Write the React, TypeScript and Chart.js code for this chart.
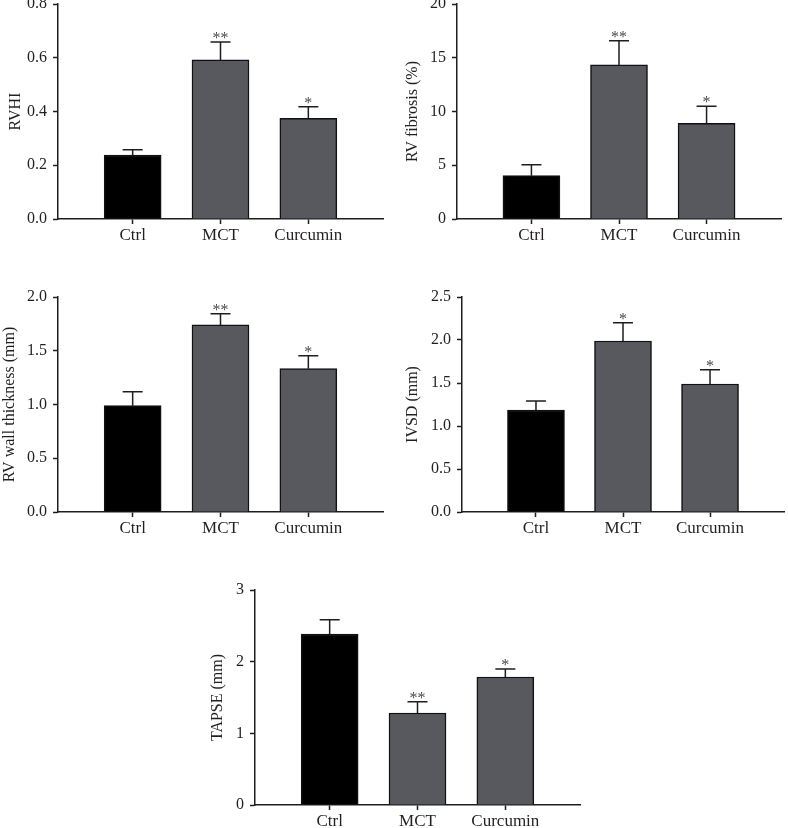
import React, { useEffect, useRef } from 'react';
import { Chart, registerables } from 'chart.js';
Chart.register(...registerables);

const CATEGORIES = ['Ctrl', 'MCT', 'Curcumin'];

const RVHI_MEAN = [0.238, 0.592, 0.375];
const RVHI_ERR = [0.020, 0.067, 0.043];
const RVHI_STARS = ['', '**', '*'];
const RVHI_TICKS = { max: 0.8, step: 0.2, dec: 1 };

const FIB_MEAN = [4.03, 14.33, 8.9];
const FIB_ERR = [1.02, 2.26, 1.6];
const FIB_STARS = ['', '**', '*'];
const FIB_TICKS = { max: 20, step: 5, dec: 0 };

const WALL_MEAN = [0.989, 1.74, 1.333];
const WALL_ERR = [0.13, 0.105, 0.121];
const WALL_STARS = ['', '**', '*'];
const WALL_TICKS = { max: 2.0, step: 0.5, dec: 1 };

const IVSD_MEAN = [1.186, 1.988, 1.488];
const IVSD_ERR = [0.105, 0.213, 0.167];
const IVSD_STARS = ['', '*', '*'];
const IVSD_TICKS = { max: 2.5, step: 0.5, dec: 1 };

const TAPSE_MEAN = [2.386, 1.284, 1.786];
const TAPSE_ERR = [0.2, 0.157, 0.112];
const TAPSE_STARS = ['', '**', '*'];
const TAPSE_TICKS = { max: 3, step: 1, dec: 0 };

const BAR_COLORS = ['#000000', '#58595e', '#58595e'];
const AXIS = '#1e1e1e';
const TEXT = '#231f20';
const FONT_FAMILY = '"Liberation Serif", "Times New Roman", serif';

type PanelProps = {
  left: number; top: number; width: number; height: number;
  yw: number; xh: number; padTop: number; padRight: number; titlePad: number;
  title: string; mean: number[]; err: number[]; stars: string[];
  ticks: { max: number; step: number; dec: number };
};

function Panel(p: PanelProps) {
  const ref = useRef<HTMLCanvasElement | null>(null);
  useEffect(() => {
    if (!ref.current) return;
    const errPlugin = {
      id: 'errbars',
      afterDatasetsDraw(chart: any) {
        const ctx = chart.ctx;
        const xs = chart.scales.x;
        const ys = chart.scales.y;
        ctx.save();
        p.mean.forEach((m, i) => {
          const x = xs.getPixelForValue(i);
          const y0 = ys.getPixelForValue(m);
          const y1 = ys.getPixelForValue(m + p.err[i]);
          ctx.strokeStyle = AXIS;
          ctx.lineWidth = 1.5;
          ctx.beginPath();
          ctx.moveTo(x, y0);
          ctx.lineTo(x, y1);
          ctx.moveTo(x - 10, y1);
          ctx.lineTo(x + 10, y1);
          ctx.stroke();
          if (p.stars[i]) {
            ctx.fillStyle = '#4a4a4a';
            ctx.font = `16px ${FONT_FAMILY}`;
            ctx.textAlign = 'center';
            ctx.textBaseline = 'alphabetic';
            ctx.fillText(p.stars[i], x, y1 + 1);
          }
        });
        ctx.restore();
      },
    };
    const font = { family: FONT_FAMILY, size: 16 };
    const catFont = { family: FONT_FAMILY, size: 17 };
    const chart = new Chart(ref.current, {
      type: 'bar',
      data: {
        datasets: [{
          data: p.mean.map((v, i) => ({ x: i, y: v })),
          backgroundColor: BAR_COLORS,
          borderColor: '#111111',
          borderWidth: 1.5,
          barThickness: 57,
        }],
      },
      options: {
        animation: false,
        responsive: false,
        events: [],
        layout: { padding: { top: p.padTop, right: p.padRight, left: 0, bottom: 0 } },
        plugins: { legend: { display: false }, tooltip: { enabled: false } },
        scales: {
          x: {
            type: 'linear',
            offset: false,
            min: -0.85,
            max: 2.85,
            bounds: 'data',
            afterBuildTicks: (s: any) => { s.ticks = CATEGORIES.map((_, i) => ({ value: i })); },
            afterFit: (s: any) => { s.height = p.xh; s.paddingLeft = 0; s.paddingRight = 0; },
            ticks: {
              callback: (v: any) => CATEGORIES[v] ?? '',
              font: catFont, color: TEXT, padding: 1, autoSkip: false, maxRotation: 0,
            },
            grid: { display: true, offset: false, drawOnChartArea: false, drawTicks: true, tickLength: 5, tickColor: AXIS, tickWidth: 1.5 },
            border: { display: true, color: AXIS, width: 1.5 },
          },
          y: {
            type: 'linear',
            min: 0,
            max: p.ticks.max,
            afterFit: (s: any) => { s.width = p.yw; s.paddingTop = 0; s.paddingBottom = 0; },
            ticks: {
              stepSize: p.ticks.step,
              callback: (v: any) => Number(v).toFixed(p.ticks.dec),
              font, color: TEXT, padding: 6,
            },
            grid: { display: true, drawOnChartArea: false, drawTicks: true, tickLength: 5, tickColor: AXIS, tickWidth: 1.5 },
            border: { display: true, color: AXIS, width: 1.5 },
            title: { display: true, text: p.title, font, color: TEXT, padding: { top: p.titlePad, bottom: 0 } },
          },
        },
      },
      plugins: [errPlugin],
    } as any);
    return () => chart.destroy();
  }, []);
  return (
    <canvas
      ref={ref}
      width={p.width}
      height={p.height}
      style={{ position: 'absolute', left: p.left, top: p.top, width: p.width, height: p.height }}
    />
  );
}

export default function App() {
  return (
    <div style={{ position: 'absolute', left: 0, top: 0, width: 788, height: 828, overflow: 'hidden', background: '#fff' }}>
      <Panel left={0} top={0} width={394} height={252} yw={58} xh={33} padTop={4} padRight={11} titlePad={6}
        title="RVHI" mean={RVHI_MEAN} err={RVHI_ERR} stars={RVHI_STARS} ticks={RVHI_TICKS} />
      <Panel left={394} top={0} width={394} height={252} yw={63} xh={33} padTop={4} padRight={7} titlePad={9}
        title="RV fibrosis (%)" mean={FIB_MEAN} err={FIB_ERR} stars={FIB_STARS} ticks={FIB_TICKS} />
      <Panel left={0} top={285} width={394} height={260} yw={58} xh={33} padTop={12} padRight={11} titlePad={0}
        title="RV wall thickness (mm)" mean={WALL_MEAN} err={WALL_ERR} stars={WALL_STARS} ticks={WALL_TICKS} />
      <Panel left={394} top={285} width={394} height={260} yw={68} xh={33} padTop={12} padRight={4} titlePad={9}
        title="IVSD (mm)" mean={IVSD_MEAN} err={IVSD_ERR} stars={IVSD_STARS} ticks={IVSD_TICKS} />
      <Panel left={194} top={578} width={400} height={260} yw={61} xh={33} padTop={12} padRight={14} titlePad={14}
        title="TAPSE (mm)" mean={TAPSE_MEAN} err={TAPSE_ERR} stars={TAPSE_STARS} ticks={TAPSE_TICKS} />
    </div>
  );
}
